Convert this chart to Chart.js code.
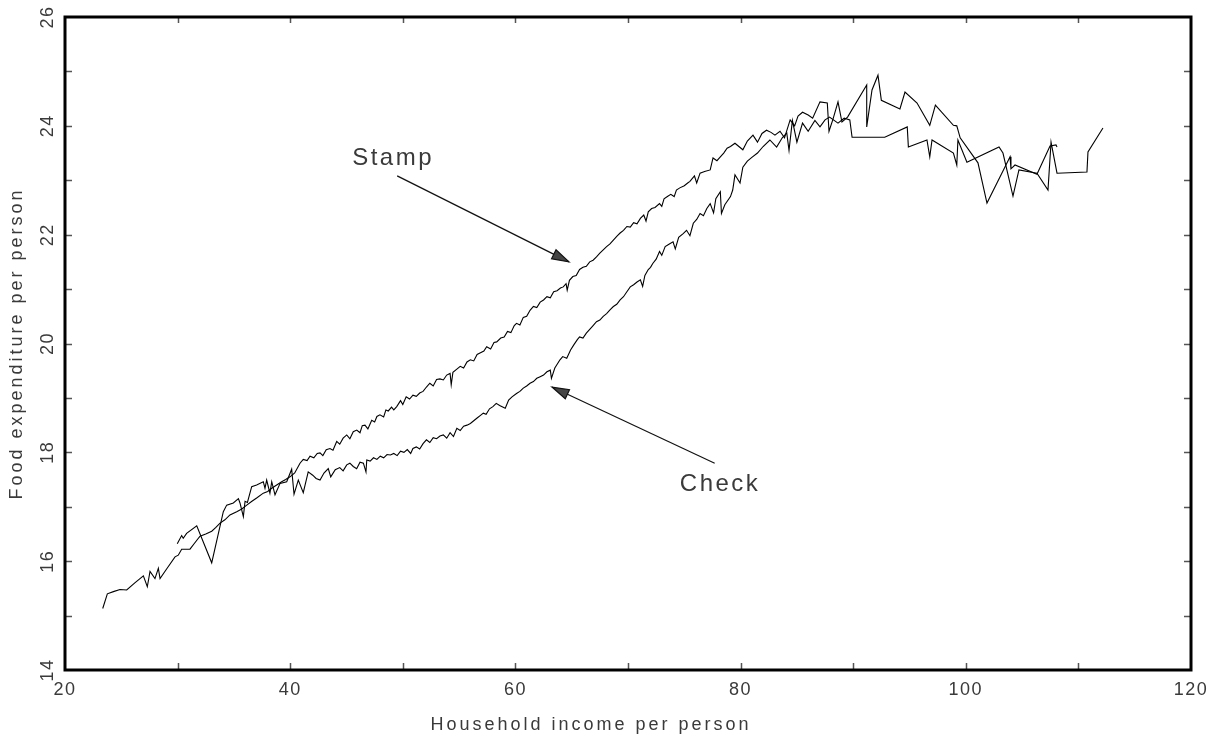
<!DOCTYPE html>
<html>
<head>
<meta charset="utf-8">
<script src="https://cdn.jsdelivr.net/npm/chart.js@4.4.1/dist/chart.umd.min.js"></script>
<style>
html, body { margin: 0; padding: 0; background: #fff; }
canvas { display: block; }
</style>
</head>
<body>
<canvas id="foodChart" width="1219" height="741"></canvas>
<script>
// income per person (x) and food expenditure per person (y)
const stampX = [23.35, 23.76, 24.3, 24.88, 25.48, 26.2, 26.96, 27.31, 27.55, 27.99, 28.29, 28.44, 29.1, 29.77, 30.06, 30.36, 31.1, 31.5, 31.99, 32.5,
  33.03, 33.4, 33.77, 34.2, 34.65, 35.25, 35.7, 36.14, 36.6, 37.02, 37.61, 38.0, 38.36, 38.8, 39.24, 39.6, 39.98, 40.4, 40.87,
  41.16, 41.5, 41.76, 42.1, 42.4, 42.65, 42.9, 43.2, 43.53, 43.8, 44.13, 44.4, 44.7, 45.02, 45.3, 45.6, 45.91, 46.2, 46.4, 46.64,
  46.9, 47.24, 47.5, 47.7, 47.97, 48.3, 48.5, 48.71, 49.0, 49.2, 49.46, 49.8, 50.0, 50.3, 50.6, 50.9, 51.2, 51.5, 51.8, 52.1,
  52.4, 52.7, 53.0, 53.3, 53.6, 53.9, 54.2, 54.3, 54.45, 54.8, 55.1, 55.4, 55.7, 56.0, 56.3, 56.6, 56.9, 57.2, 57.45, 57.8,
  58.1, 58.34, 58.7, 59.0, 59.3, 59.6, 59.9, 60.1, 60.4, 60.7, 61.0, 61.3, 61.6, 61.9, 62.2, 62.5, 62.8, 63.1, 63.4, 63.7,
  64.0, 64.25, 64.5, 64.6, 64.8, 65.1, 65.4, 65.7, 66.0, 66.3, 66.6, 66.9, 67.2, 67.5, 67.8, 68.1, 68.4, 68.7, 69.0, 69.3,
  69.6, 69.9, 70.2, 70.5, 70.8, 71.1, 71.4, 71.6, 71.8, 72.1, 72.4, 72.8, 73.0, 73.2, 73.5, 73.8, 74.1, 74.3, 74.6, 75.0,
  75.3, 75.5, 75.9, 76.1, 76.4, 76.8, 77.3, 77.55, 77.9, 78.2, 78.5, 78.8, 79.1, 79.5, 80.2, 80.6, 81.1, 81.5, 81.9, 82.3,
  82.7, 83.05, 83.5, 83.9, 84.4, 84.8, 85.1, 85.5, 86.0, 86.4, 87.05, 87.7, 87.85, 88.2, 88.65, 89.0, 89.5, 91.2, 91.2, 91.67,
  92.2, 92.5, 94.15, 94.6, 95.67, 96.8, 97.3, 98.9, 99.2, 99.5, 101.08, 101.88, 103.93, 104.01, 104.37, 106.32, 107.48, 108.01, 108.1];
const stampY = [15.13, 15.40, 15.44, 15.48, 15.47, 15.60, 15.73, 15.53, 15.81, 15.68, 15.87, 15.68, 15.88, 16.08, 16.11, 16.22, 16.22, 16.33, 16.46, 16.50,
  16.55, 16.62, 16.70, 16.76, 16.85, 16.91, 16.96, 17.03, 17.10, 17.16, 17.25, 17.28, 17.34, 17.40, 17.46, 17.50, 17.55, 17.62, 17.80,
  17.87, 17.85, 17.93, 17.90, 17.98, 17.99, 17.94, 18.05, 18.07, 18.04, 18.20, 18.15, 18.26, 18.32, 18.25, 18.38, 18.41, 18.36, 18.49, 18.50,
  18.43, 18.59, 18.56, 18.66, 18.69, 18.65, 18.78, 18.76, 18.83, 18.78, 18.84, 18.95, 18.88, 19.02, 18.98, 19.05, 19.03, 19.09, 19.12, 19.20,
  19.27, 19.22, 19.34, 19.35, 19.33, 19.42, 19.45, 19.24, 19.47, 19.53, 19.58, 19.55, 19.66, 19.70, 19.68, 19.80, 19.83, 19.86, 19.94, 19.90,
  20.02, 20.03, 20.10, 20.12, 20.22, 20.20, 20.33, 20.37, 20.34, 20.48, 20.50, 20.61, 20.68, 20.66, 20.76, 20.80, 20.86, 20.84, 20.95, 20.97,
  21.02, 21.04, 21.10, 20.98, 21.16, 21.23, 21.25, 21.36, 21.40, 21.42, 21.50, 21.53, 21.59, 21.66, 21.72, 21.78, 21.83, 21.90, 21.97, 22.03,
  22.08, 22.15, 22.14, 22.22, 22.20, 22.30, 22.36, 22.25, 22.42, 22.48, 22.50, 22.57, 22.52, 22.66, 22.70, 22.74, 22.70, 22.82, 22.86, 22.90,
  22.95, 22.98, 23.08, 22.95, 23.13, 23.16, 23.19, 23.41, 23.36, 23.43, 23.50, 23.59, 23.62, 23.68, 23.56, 23.72, 23.83, 23.70, 23.86, 23.92,
  23.88, 23.83, 23.90, 23.78, 24.11, 24.00, 24.18, 24.25, 24.20, 24.14, 24.44, 24.42, 23.90, 24.12, 24.44, 24.07, 24.16, 24.75, 23.98, 24.66,
  24.93, 24.47, 24.31, 24.62, 24.42, 24.01, 24.38, 24.01, 24.00, 23.78, 23.32, 22.58, 23.43, 23.21, 23.28, 23.11, 23.63, 23.65, 23.61];

const checkX = [29.97, 30.36, 30.5, 30.8, 31.7, 33.03, 34.06, 34.36, 34.95, 35.4, 35.54, 35.84, 35.99, 36.2, 36.58, 37.02, 37.61, 37.76, 37.91, 38.2,
  38.36, 38.65, 39.1, 39.69, 40.13, 40.34, 40.72, 41.16, 41.6, 42.0, 42.3, 42.65, 43.0, 43.38, 43.6, 44.0, 44.4, 44.7, 45.02, 45.3,
  45.6, 45.9, 46.2, 46.5, 46.73, 46.8, 47.1, 47.4, 47.7, 48.0, 48.3, 48.6, 48.9, 49.2, 49.5, 49.8, 50.1, 50.4, 50.7, 50.9,
  51.2, 51.5, 51.8, 52.1, 52.4, 52.7, 53.0, 53.3, 53.6, 53.9, 54.2, 54.5, 54.8, 55.1, 55.4, 55.7, 56.0, 56.3, 56.6, 56.9,
  57.15, 57.4, 57.7, 58.0, 58.3, 58.6, 59.1, 59.4, 59.7, 60.1, 60.4, 60.7, 61.0, 61.3, 61.6, 61.9, 62.2, 62.5, 62.8, 63.1,
  63.2, 63.5, 63.96, 64.2, 64.56, 64.9, 65.2, 65.5, 65.7, 66.0, 66.3, 66.6, 66.9, 67.2, 67.5, 67.8, 68.1, 68.4, 68.7, 69.0,
  69.3, 69.6, 69.9, 70.2, 70.5, 70.8, 71.1, 71.3, 71.5, 71.8, 72.0, 72.2, 72.5, 72.8, 73.0, 73.3, 73.6, 74.0, 74.2, 74.5,
  74.9, 75.2, 75.5, 75.8, 76.1, 76.4, 76.7, 77.0, 77.3, 77.6, 77.8, 78.2, 78.3, 78.6, 79.1, 79.3, 79.5, 79.95, 80.2, 80.6,
  81.0, 81.5, 82.0, 82.6, 83.2, 83.7, 84.1, 84.3, 84.6, 85.0, 85.5, 86.0, 86.6, 87.05, 87.5, 87.9, 88.65, 89.2, 89.7, 89.9,
  92.8, 94.8, 94.9, 96.55, 96.8, 97.0, 98.9, 99.2, 99.3, 100.1, 102.95, 103.3, 104.19, 104.72, 106.32, 107.3, 107.57, 108.1, 110.76, 110.85,
  112.18];
const checkY = [16.32, 16.47, 16.42, 16.51, 16.65, 15.97, 16.91, 17.03, 17.07, 17.15, 17.07, 16.82, 17.10, 17.08, 17.37, 17.40, 17.46, 17.34, 17.49, 17.25,
  17.46, 17.22, 17.43, 17.46, 17.69, 17.23, 17.49, 17.26, 17.64, 17.58, 17.52, 17.49, 17.62, 17.70, 17.55, 17.68, 17.72, 17.66, 17.77, 17.80,
  17.74, 17.70, 17.82, 17.80, 17.64, 17.86, 17.84, 17.90, 17.87, 17.93, 17.90, 17.96, 17.95, 17.98, 17.94, 18.02, 18.00, 18.05, 17.98, 18.07,
  18.10, 18.06, 18.16, 18.23, 18.18, 18.27, 18.25, 18.30, 18.32, 18.26, 18.36, 18.29, 18.44, 18.40, 18.48, 18.50, 18.53, 18.58, 18.63, 18.68,
  18.72, 18.70, 18.80, 18.84, 18.90, 18.86, 18.81, 18.96, 19.02, 19.08, 19.12, 19.18, 19.22, 19.27, 19.30, 19.36, 19.39, 19.42, 19.48, 19.51,
  19.36, 19.55, 19.70, 19.76, 19.73, 19.88, 19.98, 20.07, 20.12, 20.10, 20.19, 20.26, 20.33, 20.40, 20.43, 20.50, 20.55, 20.62, 20.68, 20.72,
  20.80, 20.86, 20.95, 21.04, 21.08, 21.13, 21.17, 21.05, 21.25, 21.36, 21.40, 21.47, 21.55, 21.69, 21.62, 21.78, 21.82, 21.87, 21.74, 21.95,
  22.02, 22.08, 21.98, 22.21, 22.28, 22.39, 22.35, 22.48, 22.57, 22.40, 22.66, 22.79, 22.39, 22.55, 22.70, 22.82, 23.10, 22.95, 23.24, 23.35,
  23.42, 23.50, 23.62, 23.74, 23.61, 23.78, 23.87, 23.55, 24.10, 23.70, 24.05, 23.90, 24.10, 23.98, 24.11, 24.16, 24.05, 24.14, 24.11, 23.79,
  23.79, 23.98, 23.61, 23.74, 23.43, 23.74, 23.50, 23.28, 23.74, 23.33, 23.61, 23.50, 22.71, 23.19, 23.13, 22.82, 23.70, 23.13, 23.15, 23.52,
  23.96];

const xTickValues = [20, 40, 60, 80, 100, 120];
const yTickValues = [14, 16, 18, 20, 22, 24, 26];
const xTitle = 'Household income per person';
const yTitle = 'Food expenditure per person';

// annotations in data units: label position, arrow tail, arrow tip
const notes = [
  { text: 'Stamp', at: [45.5, 23.4], from: [49.5, 23.08], to: [64.76, 21.5] },
  { text: 'Check', at: [74.6, 17.42], from: [77.7, 17.8], to: [63.25, 19.2] }
];

function toPoints(xs, ys) {
  return xs.map((v, i) => ({ x: v, y: ys[i] }));
}

const frame = {
  id: 'frame',
  afterDraw(chart) {
    const { ctx, chartArea: a, scales: { x, y } } = chart;
    ctx.save();

    // inward tick marks on all four sides
    ctx.strokeStyle = '#555';
    ctx.lineWidth = 1.5;
    ctx.beginPath();
    x.ticks.forEach(t => {
      if (t.value <= x.min || t.value >= x.max) return;
      const px = Math.round(x.getPixelForValue(t.value)) + 0.5;
      ctx.moveTo(px, a.bottom); ctx.lineTo(px, a.bottom - 7);
      ctx.moveTo(px, a.top); ctx.lineTo(px, a.top + 6);
    });
    y.ticks.forEach(t => {
      if (t.value <= y.min || t.value >= y.max) return;
      const py = Math.round(y.getPixelForValue(t.value)) + 0.5;
      ctx.moveTo(a.left, py); ctx.lineTo(a.left + 7, py);
      ctx.moveTo(a.right, py); ctx.lineTo(a.right - 7, py);
    });
    ctx.stroke();

    // box
    ctx.strokeStyle = '#000';
    ctx.lineWidth = 3;
    ctx.strokeRect(a.left, a.top, a.right - a.left, a.bottom - a.top);

    // tick labels
    ctx.fillStyle = '#3a3a3a';
    ctx.font = '18px "Liberation Sans", Arial, sans-serif';
    ctx.letterSpacing = '1.5px';
    ctx.textAlign = 'center';
    ctx.textBaseline = 'middle';
    xTickValues.forEach(v => {
      ctx.fillText(String(v), x.getPixelForValue(v), a.bottom + 20);
    });
    yTickValues.forEach(v => {
      ctx.save();
      ctx.translate(a.left - 17, y.getPixelForValue(v));
      ctx.rotate(-Math.PI / 2);
      ctx.fillText(String(v), 0, 0);
      ctx.restore();
    });

    // axis titles
    ctx.font = '18px "Liberation Sans", Arial, sans-serif';
    ctx.letterSpacing = '3px';
    ctx.fillText(xTitle, 591, 725);
    ctx.save();
    ctx.translate(17, (a.top + a.bottom) / 2);
    ctx.rotate(-Math.PI / 2);
    ctx.fillText(yTitle, 0, 0);
    ctx.restore();

    // annotations with arrows
    ctx.font = '24px "Liberation Sans", Arial, sans-serif';
    ctx.letterSpacing = '2.5px';
    ctx.textAlign = 'left';
    notes.forEach(n => {
      ctx.fillStyle = '#3a3a3a';
      ctx.fillText(n.text, x.getPixelForValue(n.at[0]), y.getPixelForValue(n.at[1]));
      const x0 = x.getPixelForValue(n.from[0]), y0 = y.getPixelForValue(n.from[1]);
      const x1 = x.getPixelForValue(n.to[0]), y1 = y.getPixelForValue(n.to[1]);
      const ang = Math.atan2(y1 - y0, x1 - x0);
      ctx.strokeStyle = '#111';
      ctx.lineWidth = 1.2;
      ctx.beginPath();
      ctx.moveTo(x0, y0); ctx.lineTo(x1, y1);
      ctx.stroke();
      ctx.fillStyle = '#444';
      ctx.beginPath();
      ctx.moveTo(x1, y1);
      ctx.lineTo(x1 - 17 * Math.cos(ang) + 5 * Math.sin(ang), y1 - 17 * Math.sin(ang) - 5 * Math.cos(ang));
      ctx.lineTo(x1 - 17 * Math.cos(ang) - 5 * Math.sin(ang), y1 - 17 * Math.sin(ang) + 5 * Math.cos(ang));
      ctx.closePath();
      ctx.fill();
      ctx.stroke();
    });
    ctx.restore();
  }
};

const ctx = document.getElementById('foodChart').getContext('2d');
new Chart(ctx, {
  type: 'scatter',
  data: {
    datasets: [{
      label: 'Stamp',
      data: toPoints(stampX, stampY),
      showLine: true,
      borderColor: '#000',
      borderWidth: 1.1,
      pointRadius: 0,
      tension: 0
    }, {
      label: 'Check',
      data: toPoints(checkX, checkY),
      showLine: true,
      borderColor: '#000',
      borderWidth: 1.1,
      pointRadius: 0,
      tension: 0
    }]
  },
  options: {
    responsive: false,
    animation: false,
    devicePixelRatio: 1,
    layout: {
      padding: { left: 65, right: 28, top: 17, bottom: 71 }
    },
    scales: {
      x: {
        type: 'linear',
        min: 20,
        max: 120,
        ticks: { display: false, stepSize: 10 },
        grid: { display: false, drawTicks: false },
        border: { display: false }
      },
      y: {
        type: 'linear',
        min: 14,
        max: 26,
        ticks: { display: false, stepSize: 1 },
        grid: { display: false, drawTicks: false },
        border: { display: false }
      }
    },
    plugins: {
      legend: { display: false },
      tooltip: { enabled: false }
    }
  },
  plugins: [frame]
});
</script>
</body>
</html>
